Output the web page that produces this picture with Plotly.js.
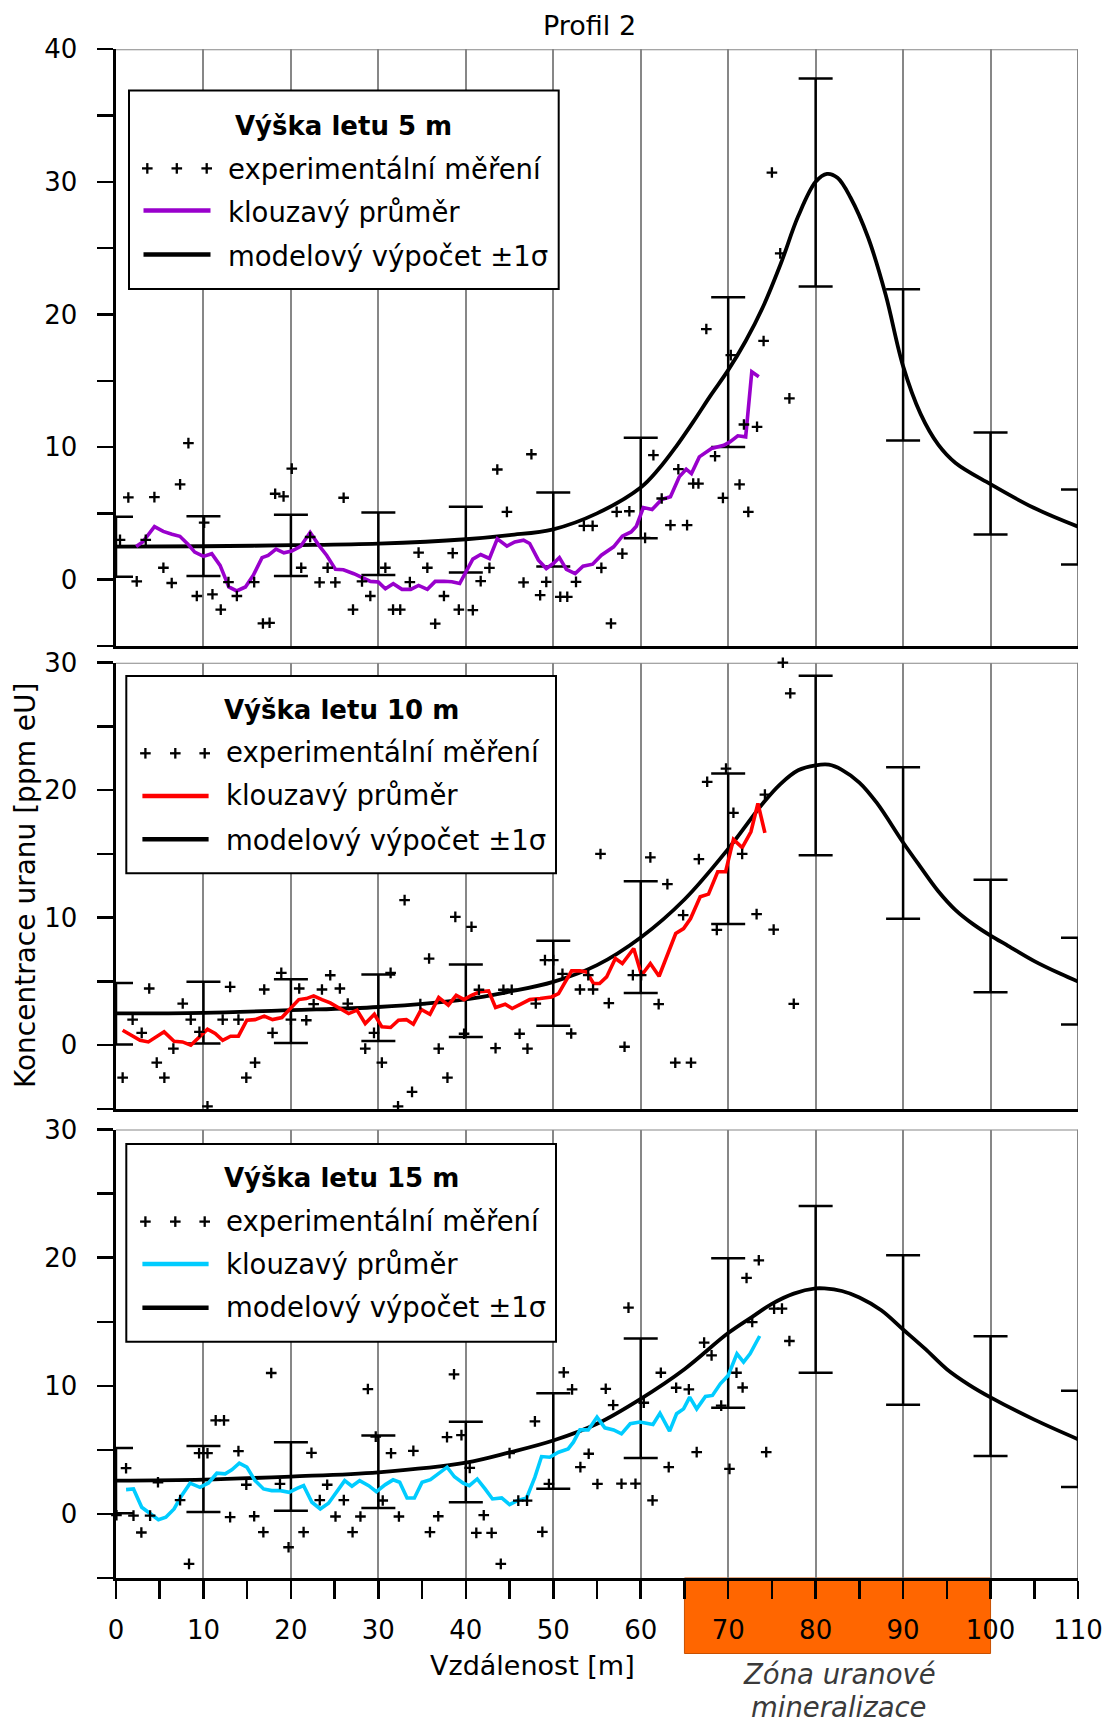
<!DOCTYPE html>
<html><head><meta charset="utf-8">
<script src="https://cdn.plot.ly/plotly-3.0.1.min.js"></script>
<style>html,body{margin:0;padding:0;background:#fff}#chart{width:1104px;height:1724px}</style>
</head><body><div id="chart"></div>
<script>
// ---------------- DATA ----------------
const xTickVals = [0,10,20,30,40,50,60,70,80,90,100,110];
const xTickText = ['0','10','20','30','40','50','60','70','80','90','100','110'];
const xMinorVals = [5,15,25,35,45,55,65,75,85,95,105];
const y1TickVals = [0,10,20,30,40];
const y1TickText = ['0','10','20','30','40'];
const y1MinorVals = [-5,5,15,25,35];
const y23TickVals = [0,10,20,30];
const y23TickText = ['0','10','20','30'];
const y23MinorVals = [-5,5,15,25];

const errX = [0,10,20,30,40,50,60,70,80,90,100,110];

// Panel 1 – výška letu 5 m
const p1PtsX = [0.46,1.41,2.37,3.4,4.39,5.42,6.37,7.33,8.28,9.24,10.08,11.03,11.98,12.86,13.82,15.8,16.8,17.56,18.2,19.16,20.1,21.18,22.2,23.28,24.2,25.08,26.03,27.1,28.13,29.08,30.8,31.68,32.5,33.6,34.6,35.6,36.5,37.5,38.5,39.2,40.8,41.7,42.7,43.6,44.7,46.6,47.5,48.5,49.2,50.8,51.6,52.6,53.5,54.5,55.5,56.6,57.25,57.9,58.7,60.5,61.45,62.4,63.4,64.3,65.3,66.0,66.6,67.5,68.5,69.4,70.3,71.3,71.8,72.3,73.3,74.05,75.0,75.95,77.0];
const p1PtsY = [3.0,6.2,-0.13,3.0,6.23,0.9,-0.25,7.19,10.3,-1.23,4.3,-1.1,-2.26,-0.18,-1.23,-0.18,-3.3,-3.25,6.48,6.28,8.37,0.9,3.22,-0.2,0.9,-0.2,6.18,-2.26,-0.13,-1.23,0.9,-2.26,-2.26,-0.18,2.04,0.9,-3.32,-1.23,2.0,-2.26,-2.3,-0.11,0.89,8.31,5.11,-0.21,9.46,-1.17,-0.16,-1.29,-1.29,-0.16,4.06,4.06,0.89,-3.3,5.11,1.97,5.16,3.15,9.39,6.12,4.11,8.33,4.11,7.25,7.25,18.9,9.31,6.17,16.93,7.18,11.7,5.11,11.53,18.0,30.7,24.6,13.67];
const p1AvgX = [2.3,3.05,4.4,5.4,6.4,7.3,8.2,9.0,10.0,10.95,11.9,12.9,13.8,14.8,15.7,16.7,17.4,18.3,19.2,20.1,21.1,22.2,23.2,24.1,25.1,26.0,27.2,28.1,29.1,30.0,30.8,31.7,32.7,33.7,34.6,35.6,36.5,37.5,38.4,39.3,40.1,40.8,41.7,42.7,43.6,44.7,45.6,46.6,47.3,48.3,49.2,50.0,50.7,51.5,52.5,53.4,54.5,55.5,56.9,57.9,58.9,59.5,60.3,61.3,62.4,63.4,64.4,65.2,65.8,66.7,68.1,69.5,70.2,71.1,72.0,72.7,73.5];
const p1AvgY = [2.5,2.84,4.0,3.64,3.42,3.27,2.7,2.08,1.76,1.96,1.08,-0.55,-0.85,-0.55,0.33,1.66,1.83,2.31,2.03,2.16,2.51,3.57,2.59,1.83,0.78,0.75,0.45,0.15,-0.13,-0.18,-0.68,-0.3,-0.73,-0.73,-0.43,-0.73,-0.13,-0.12,-0.16,-0.29,0.72,1.55,1.9,1.6,3.08,2.53,2.85,2.98,2.73,1.47,0.84,1.22,1.67,0.77,0.46,1.02,1.17,1.85,2.48,3.28,3.6,4.03,5.44,5.29,6.05,6.25,7.75,8.33,8.0,9.26,9.89,10.14,10.39,10.85,10.77,15.67,15.3];
const p1ModelX = [0,10,20,30,40,45,50,55,60,62,64,66,68,70,72,74,76,78,80,81.3,82.5,84,86,88,90,92,94,96,100,105,110];
const p1ModelY = [2.5,2.52,2.6,2.72,3.05,3.36,3.8,5.0,6.95,8.3,10.0,11.9,13.9,15.8,18.0,20.6,23.8,27.4,30.0,30.6,30.3,28.8,25.8,21.5,16.1,12.5,10.2,8.8,7.2,5.4,4.0];
const p1ErrHi = [4.74,4.78,4.9,5.07,5.5,6.58,10.71,21.3,37.8,21.9,11.1,6.8];
const p1ErrLo = [0.22,0.27,0.27,0.36,0.54,1.0,3.13,10.0,22.1,10.5,3.4,1.14];

// Panel 2 – výška letu 10 m
const p2PtsX = [0.76,1.9,2.94,3.8,4.66,5.53,6.56,7.63,8.55,9.54,10.46,12.2,13.05,14.0,14.9,15.9,16.95,17.9,18.9,20.0,20.95,21.76,22.6,23.55,24.5,25.6,26.5,28.5,29.5,30.4,31.4,32.25,33.0,33.85,34.8,35.8,36.9,37.9,38.8,39.8,40.65,41.5,43.4,44.3,45.25,46.15,47.05,48.0,49.05,50.0,51.05,52.05,53.05,54.0,54.55,55.4,56.35,58.15,59.1,60.05,61.1,62.05,63.05,63.95,64.85,65.75,66.65,67.6,68.7,69.75,70.6,71.6,73.25,74.2,75.2,76.25,77.1,77.5];
const p2PtsY = [-2.54,2.01,0.97,4.45,-1.36,-2.54,-0.26,3.27,2.01,1.05,-4.79,2.01,4.58,2.01,-2.54,-1.36,4.37,0.97,5.68,2.01,4.45,1.96,3.22,4.37,5.49,4.45,3.27,-0.26,0.97,-1.36,5.68,-4.79,11.38,-3.66,3.22,6.8,-0.26,-2.54,10.07,0.9,9.29,4.35,-0.23,4.35,4.35,0.9,-0.26,3.27,6.67,6.67,5.6,0.92,4.37,5.5,4.37,15.0,3.3,-0.12,5.5,5.5,14.73,3.22,12.63,-1.37,10.2,-1.37,14.6,20.66,9.05,21.7,18.23,15.0,10.28,19.65,9.07,30.0,27.6,3.25];
const p2AvgX = [0.76,1.8,2.75,3.7,4.66,5.5,6.64,7.6,8.55,9.54,10.46,11.34,12.2,13.1,14.0,14.96,15.9,16.95,17.9,18.97,20.0,20.9,21.76,22.6,23.55,24.5,25.6,26.6,27.56,28.5,29.54,30.4,31.4,32.3,33.2,34.0,34.9,35.9,36.9,38.0,38.9,39.8,40.65,41.6,42.6,43.4,44.5,45.3,46.4,47.3,48.5,49.8,50.6,51.2,52.1,53.05,53.8,54.6,55.3,56.1,57.1,57.9,59.2,60.1,61.1,62.1,63.2,64.0,64.9,65.7,66.8,67.75,68.8,69.7,70.6,71.6,72.6,73.4,74.2];
const p2AvgY = [1.18,0.78,0.39,0.26,0.71,1.05,0.31,0.26,0.0,0.65,1.26,0.92,0.39,0.71,0.71,1.96,2.01,2.28,2.01,2.17,2.93,3.58,3.66,3.87,3.58,3.32,2.88,2.48,2.75,1.7,2.43,1.44,1.39,1.96,2.01,1.65,2.8,2.43,3.75,3.14,3.92,3.58,3.92,4.19,4.26,2.96,3.22,2.88,3.27,3.58,3.66,3.79,4.05,4.79,5.83,5.83,5.75,4.84,4.84,5.36,6.8,6.41,7.59,5.49,6.41,5.41,7.32,8.76,9.15,9.94,11.64,11.85,13.6,13.6,16.14,15.5,16.74,18.96,16.66];
const p2ModelX = [0,10,20,30,40,45,50,55,60,65,70,74,76,78,80,81.5,83,85,87,90,92,94,96,98,100,102,105,108,110];
const p2ModelY = [2.5,2.54,2.75,3.0,3.6,4.2,4.97,6.28,8.45,11.43,15.4,19.0,20.5,21.56,21.95,22.0,21.6,20.6,19.0,15.9,13.97,12.1,10.6,9.5,8.6,7.8,6.6,5.6,5.0];
const p2ErrHi = [4.88,4.97,5.18,5.55,6.33,8.19,12.87,21.32,28.97,21.8,12.98,8.43];
const p2ErrLo = [0.05,0.13,0.18,0.34,0.65,1.52,4.1,9.5,14.9,9.92,4.16,1.63];

// Panel 3 – výška letu 15 m
const p3PtsX = [0.05,1.15,2.0,2.9,3.9,4.8,7.33,8.35,9.5,10.46,11.4,12.35,13.05,14.0,14.9,15.8,16.85,17.75,18.75,19.73,21.45,22.35,23.3,24.15,25.1,26.05,27.05,27.95,28.8,29.7,30.5,31.45,32.35,34.0,35.9,36.85,37.85,38.65,39.5,40.45,41.2,42.05,42.95,44.0,45.0,46.0,47.0,47.9,48.75,49.5,51.2,52.15,53.1,54.05,55.05,56.0,56.85,57.8,58.6,59.4,60.35,61.35,62.3,63.2,64.05,65.5,66.4,67.25,68.1,69.2,70.15,70.95,71.65,72.1,72.75,73.5,74.35,75.25,76.15,77.0];
const p3PtsY = [-0.1,3.57,-0.13,-1.45,-0.13,2.47,1.08,-3.9,4.74,4.74,7.3,7.3,-0.25,4.9,2.28,-0.18,-1.42,11.0,2.34,-2.6,-1.42,4.77,1.08,2.28,-0.2,1.08,-1.42,-0.2,9.75,6.04,1.05,4.74,-0.2,4.92,-1.42,-0.18,6.0,10.9,6.15,3.6,-1.48,-0.1,-1.48,-3.9,4.75,1.04,1.04,7.22,-1.4,2.34,11.05,9.72,3.65,4.7,2.34,9.77,8.5,2.36,16.1,2.36,8.68,1.06,11.02,3.65,9.85,9.72,4.82,13.37,12.38,8.46,3.52,11.02,9.87,18.42,14.98,19.8,4.83,16.03,16.03,13.5];
const p3AvgX = [1.15,2.0,2.94,3.9,4.85,5.7,6.64,7.5,8.47,9.6,10.57,11.53,12.48,13.24,14.1,14.96,15.9,16.87,17.8,18.8,19.8,20.7,21.45,22.4,23.36,24.3,25.27,26.15,26.98,27.86,28.9,29.77,30.8,31.68,32.44,33.28,34.12,35.0,35.95,36.9,37.86,38.7,39.7,40.4,41.3,42.2,43.05,44.1,45.0,45.9,46.95,47.9,48.66,49.6,50.6,51.7,52.3,53.05,54.0,55.0,55.9,56.9,57.8,58.8,59.9,60.5,61.4,62.2,63.3,64.1,64.9,65.6,66.4,67.4,68.2,69.1,70.0,71.0,71.76,72.5,73.6];
const p3AvgY = [1.9,1.95,0.52,0.0,-0.45,-0.26,0.39,1.43,2.4,2.08,2.42,3.18,3.13,3.44,3.96,3.65,2.6,1.95,1.82,1.82,1.69,2.0,2.21,0.91,0.39,0.83,1.82,2.6,2.16,2.6,2.21,1.74,2.29,2.66,2.47,1.25,1.25,2.47,2.68,3.18,3.65,2.9,2.4,2.21,2.73,1.95,1.17,1.25,0.73,1.04,1.25,2.87,4.48,4.43,4.82,5.08,5.6,6.56,6.56,7.56,6.72,6.56,6.25,7.04,7.17,7.1,6.98,7.86,6.46,7.82,8.2,9.12,8.2,9.17,9.25,10.16,10.81,12.5,11.85,12.5,13.89];
const p3ModelX = [0,10,20,30,40,45,50,55,60,65,70,73,75,77.5,80,81,83,85,87.5,90,92.5,95,97.5,100,105,110];
const p3ModelY = [2.6,2.68,2.92,3.25,4.0,4.8,5.73,7.04,8.99,11.3,14.12,15.5,16.4,17.2,17.6,17.6,17.4,16.9,15.9,14.4,12.9,11.3,10.1,9.1,7.36,5.83];
const p3ErrHi = [5.14,5.3,5.6,6.12,7.19,9.43,13.69,19.96,24.03,20.2,13.87,9.62];
const p3ErrLo = [0.06,0.15,0.24,0.46,0.92,1.96,4.36,8.28,11.03,8.52,4.52,2.1];

const panelTitles = ['Výška letu 5 m','Výška letu 10 m','Výška letu 15 m'];
const legendLabels = ['experimentální měření','klouzavý průměr','modelový výpočet ±1σ'];
const avgColors = ['#9900CC','#FF0000','#00CCFF'];
const chartTitle = 'Profil 2';
const xTitle = 'Vzdálenost [m]';
const yTitle = 'Koncentrace uranu [ppm eU]';
const zoneRange = [65,100];
const zoneLabel = ['Zóna uranové','mineralizace'];

// ---------------- LAYOUT ----------------
const W = 1104, H = 1724, ML = 116, MR = 26;
const PW = W - ML - MR;
const FONT = 'DejaVu Sans';
const px2x = p => (p - ML) / PW;
const px2y = p => 1 - p / H;

const panels = [
  {top:49.2, bottom:646, range:[-5,40], tv:y1TickVals, tt:y1TickText, mv:y1MinorVals,
   pts:[p1PtsX,p1PtsY], avg:[p1AvgX,p1AvgY], model:[p1ModelX,p1ModelY], err:[p1ErrHi,p1ErrLo],
   leg:{x0:129,x1:558.7,y0:90.5,y1:289, title:126, rows:[169.3,212.2,255.5], sym:[168.4,210.4,254.6], plus:[147.3,176.8,206.7], line:[143.5,210.5], tx:225.8}},
  {top:662.7, bottom:1109, range:[-5,30], tv:y23TickVals, tt:y23TickText, mv:y23MinorVals,
   pts:[p2PtsX,p2PtsY], avg:[p2AvgX,p2AvgY], model:[p2ModelX,p2ModelY], err:[p2ErrHi,p2ErrLo],
   leg:{x0:126.3,x1:556,y0:676,y1:873.3, title:710, rows:[752,795.4,839.7], sym:[753.3,796,839.3], plus:[145.4,175.3,204.7], line:[142.4,208.6], tx:223.9}},
  {top:1129.6, bottom:1578, range:[-5,30], tv:y23TickVals, tt:y23TickText, mv:y23MinorVals,
   pts:[p3PtsX,p3PtsY], avg:[p3AvgX,p3AvgY], model:[p3ModelX,p3ModelY], err:[p3ErrHi,p3ErrLo],
   leg:{x0:126.3,x1:556,y0:1144,y1:1341.8, title:1178, rows:[1220.6,1264,1307], sym:[1221.6,1263.9,1307.7], plus:[145.4,175.3,204.7], line:[142.4,208.6], tx:223.9}}
];

const traces = [];
const layout = {
  width: W, height: H,
  margin: {l: ML, r: MR, t: 0, b: 0, pad: 0},
  paper_bgcolor: '#fff', plot_bgcolor: 'rgba(0,0,0,0)',
  showlegend: false,
  font: {family: FONT, color: '#000'},
  shapes: [], annotations: []
};

panels.forEach((p, i) => {
  const n = i + 1;
  const xa = 'x' + (n === 1 ? '' : n), ya = 'y' + (n === 1 ? '' : n);
  const xKey = 'xaxis' + (n === 1 ? '' : n), yKey = 'yaxis' + (n === 1 ? '' : n);
  const isBottom = (n === 3);
  layout[xKey] = {
    domain: [0, 1], range: [0, 110], anchor: ya, fixedrange: true,
    showgrid: true, gridcolor: '#878787', gridwidth: 2,
    tickmode: 'array', tickvals: xTickVals, ticktext: xTickText,
    showticklabels: isBottom, ticks: isBottom ? 'outside' : '',
    ticklen: 17.6, tickwidth: 2.5, tickcolor: '#000',
    ticklabelstandoff: 9,
    tickfont: {family: FONT, size: 26, color: '#000'},
    showline: true, linecolor: '#000', linewidth: 3, zeroline: false
  };
  if (isBottom) {
    layout[xKey].minor = {tickmode: 'array', tickvals: xMinorVals, ticks: 'outside', ticklen: 17.6, tickwidth: 2.5, tickcolor: '#000', showgrid: false};
  }
  layout[yKey] = {
    domain: [px2y(p.bottom), px2y(p.top)], range: p.range, anchor: xa, fixedrange: true,
    tickmode: 'array', tickvals: p.tv, ticktext: p.tt,
    ticks: 'outside', ticklen: 16.5, tickwidth: 2.5, tickcolor: '#000',
    ticklabelstandoff: 14,
    minor: {tickmode: 'array', tickvals: p.mv, ticks: 'outside', ticklen: 16.5, tickwidth: 2.5, tickcolor: '#000', showgrid: false},
    tickfont: {family: FONT, size: 26, color: '#000'},
    showgrid: false, showline: true, linecolor: '#000', linewidth: 3, zeroline: false
  };

  // error bars (±1σ of the model)
  const hi = p.err[0], lo = p.err[1];
  traces.push({
    type: 'scatter', mode: 'markers', x: errX, y: lo, xaxis: xa, yaxis: ya,
    marker: {size: 1, color: 'rgba(0,0,0,0)'}, cliponaxis: false, hoverinfo: 'skip',
    error_y: {type: 'data', symmetric: false, array: hi.map((h, k) => h - lo[k]), arrayminus: lo.map(() => 0),
              color: '#000', thickness: 2.5, width: 17}
  });
  // model
  traces.push({
    type: 'scatter', mode: 'lines', x: p.model[0], y: p.model[1], xaxis: xa, yaxis: ya,
    line: {color: '#000', width: 3.8, shape: 'spline', smoothing: 1}, hoverinfo: 'skip'
  });
  // moving average
  traces.push({
    type: 'scatter', mode: 'lines', x: p.avg[0], y: p.avg[1], xaxis: xa, yaxis: ya,
    line: {color: avgColors[i], width: 3.6}, hoverinfo: 'skip'
  });
  // measurements
  traces.push({
    type: 'scatter', mode: 'markers', x: p.pts[0], y: p.pts[1], xaxis: xa, yaxis: ya,
    marker: {symbol: 'cross-thin', size: 7.6, color: '#000', line: {color: '#000', width: 2.3}},
    cliponaxis: false, hoverinfo: 'skip'
  });

  // grey top and right border
  layout.shapes.push({type: 'line', xref: xa, yref: ya, x0: 0, x1: 110, y0: p.range[1], y1: p.range[1], line: {color: '#878787', width: 2}, layer: 'below'});
  layout.shapes.push({type: 'line', xref: xa, yref: ya, x0: 110, x1: 110, y0: p.range[0], y1: p.range[1], line: {color: '#878787', width: 2}, layer: 'below'});

  // legend box
  const L = p.leg;
  layout.shapes.push({type: 'rect', xref: 'paper', yref: 'paper', x0: px2x(L.x0), x1: px2x(L.x1), y0: px2y(L.y1), y1: px2y(L.y0),
    fillcolor: '#fff', line: {color: '#000', width: 2}, layer: 'above'});
  L.plus.forEach(cx => {
    layout.shapes.push({type: 'line', xref: 'paper', yref: 'paper', x0: px2x(cx - 5.3), x1: px2x(cx + 5.3), y0: px2y(L.sym[0]), y1: px2y(L.sym[0]), line: {color: '#000', width: 2.3}, layer: 'above'});
    layout.shapes.push({type: 'line', xref: 'paper', yref: 'paper', x0: px2x(cx), x1: px2x(cx), y0: px2y(L.sym[0] - 5.3), y1: px2y(L.sym[0] + 5.3), line: {color: '#000', width: 2.3}, layer: 'above'});
  });
  layout.shapes.push({type: 'line', xref: 'paper', yref: 'paper', x0: px2x(L.line[0]), x1: px2x(L.line[1]), y0: px2y(L.sym[1]), y1: px2y(L.sym[1]), line: {color: avgColors[i], width: 4.5}, layer: 'above'});
  layout.shapes.push({type: 'line', xref: 'paper', yref: 'paper', x0: px2x(L.line[0]), x1: px2x(L.line[1]), y0: px2y(L.sym[2]), y1: px2y(L.sym[2]), line: {color: '#000', width: 4.5}, layer: 'above'});
  layout.annotations.push({xref: 'paper', yref: 'paper', x: px2x((L.x0 + L.x1) / 2), y: px2y(L.title), xanchor: 'center', yanchor: 'middle',
    text: '<b>' + panelTitles[i] + '</b>', showarrow: false, font: {family: FONT, size: 26, color: '#000'}});
  legendLabels.forEach((t, k) => {
    layout.annotations.push({xref: 'paper', yref: 'paper', x: px2x(L.tx), y: px2y(L.rows[k]), xanchor: 'left', yanchor: 'middle',
      text: t, showarrow: false, font: {family: FONT, size: 27.5, color: '#000'}});
  });
});

// orange zone box
layout.shapes.push({type: 'rect', xref: 'x3', yref: 'paper', x0: zoneRange[0], x1: zoneRange[1], y0: px2y(1653.5), y1: px2y(1578),
  fillcolor: '#FF6600', line: {color: '#C85000', width: 1}, layer: 'below'});

// titles
layout.annotations.push({xref: 'paper', yref: 'paper', x: px2x(589), y: px2y(26), xanchor: 'center', yanchor: 'middle', text: chartTitle, showarrow: false, font: {family: FONT, size: 27, color: '#000'}});
layout.annotations.push({xref: 'paper', yref: 'paper', x: px2x(532), y: px2y(1665), xanchor: 'center', yanchor: 'middle', text: xTitle, showarrow: false, font: {family: FONT, size: 27, color: '#000'}});
layout.annotations.push({xref: 'paper', yref: 'paper', x: px2x(25), y: px2y(886), xanchor: 'center', yanchor: 'middle', textangle: -90, text: yTitle, showarrow: false, font: {family: FONT, size: 28, color: '#000'}});
layout.annotations.push({xref: 'paper', yref: 'paper', x: px2x(839), y: px2y(1674), xanchor: 'center', yanchor: 'middle', text: '<i>' + zoneLabel[0] + '</i>', showarrow: false, font: {family: FONT, size: 27.5, color: '#3a3a3a'}});
layout.annotations.push({xref: 'paper', yref: 'paper', x: px2x(839), y: px2y(1707), xanchor: 'center', yanchor: 'middle', text: '<i>' + zoneLabel[1] + '</i>', showarrow: false, font: {family: FONT, size: 27.5, color: '#3a3a3a'}});

Plotly.newPlot('chart', traces, layout, {displayModeBar: false, staticPlot: true});
</script></body></html>
